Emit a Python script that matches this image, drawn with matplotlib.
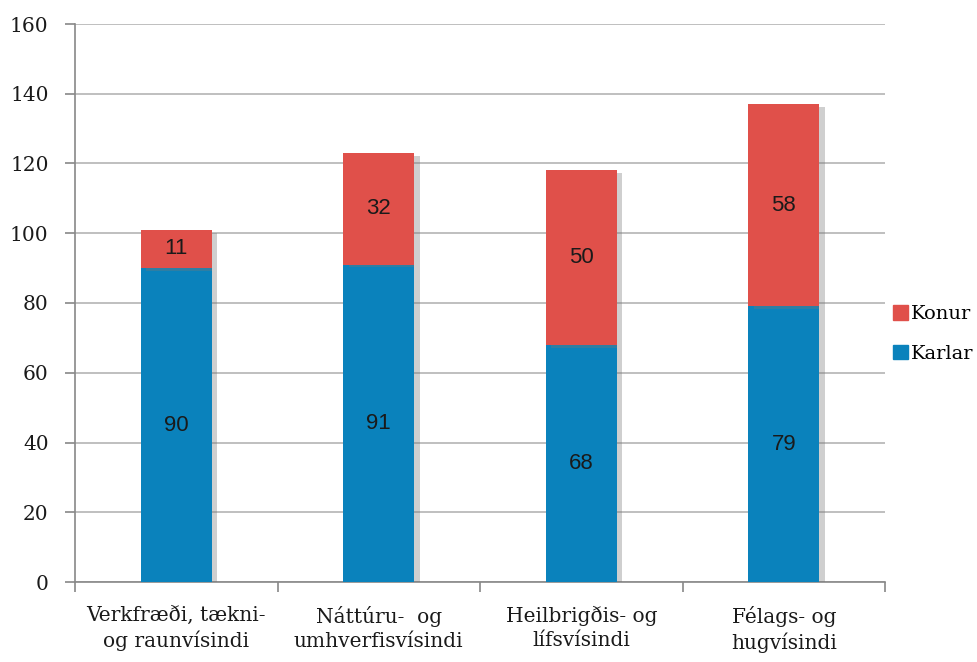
import matplotlib
matplotlib.use("Agg")
import matplotlib.pyplot as plt
import matplotlib.patheffects as pe
from matplotlib.patches import Patch
import numpy as np

categories = ["Verkfræði, tækni-\nog raunvísindi", "Náttúru-  og\numhverfisvísindi",
              "Heilbrigðis- og\nlífsvísindi", "Félags- og\nhugvísindi"]
karlar = [90, 91, 68, 79]
konur = [11, 32, 50, 58]
yticks = [0, 20, 40, 60, 80, 100, 120, 140, 160]

blue = "#0A82BC"
red = "#E0504A"
grid_c = "#B4B4B4"
serif = ["DejaVu Serif"]
sans = ["Liberation Sans", "DejaVu Sans"]

fig = plt.figure(figsize=(9.77, 6.62), dpi=100)
ax = fig.add_axes([75/977, 1-582/662, 810/977, (582-24)/662])

x = np.arange(len(categories))
w = 0.35
shadow = [pe.SimplePatchShadow(offset=(4, -2), shadow_rgbFace="#777777", alpha=0.35), pe.Normal()]
b1 = ax.bar(x, karlar, w, color=blue, label="Karlar", zorder=3)
b2 = ax.bar(x, konur, w, bottom=karlar, color=red, label="Konur", zorder=3)
for b in list(b1) + list(b2):
    b.set_path_effects(shadow)

for i in range(len(x)):
    ax.text(x[i], karlar[i]/2, str(karlar[i]), ha="center", va="center",
            fontsize=16, family=sans, color="#1A1A1A", zorder=4)
    ax.text(x[i], karlar[i] + konur[i]/2, str(konur[i]), ha="center", va="center",
            fontsize=16, family=sans, color="#1A1A1A", zorder=4)

ax.set_xlim(-0.5, len(x) - 0.5)
ax.set_ylim(0, 160)
ax.set_yticks(yticks)
ax.set_yticklabels([str(v) for v in yticks], family=serif, fontsize=14.5, color="#1A1A1A")
ax.yaxis.grid(True, color=grid_c, linewidth=1.2, zorder=0)
ax.set_axisbelow(True)

ax.set_xticks(np.arange(len(x) + 1) - 0.5)
ax.set_xticklabels([])
ax.set_xticks(x, minor=True)
ax.set_xticklabels(categories, minor=True, family=serif, fontsize=14.5, color="#1A1A1A",
                   linespacing=1.35)
ax.tick_params(axis="x", which="minor", length=0, pad=17)
ax.tick_params(axis="x", which="major", length=7, color="#888888", width=1.2)
ax.tick_params(axis="y", length=7, color="#888888", width=1.2, pad=12)

for s in ["top", "right"]:
    ax.spines[s].set_visible(False)
for s in ["left", "bottom"]:
    ax.spines[s].set_color("#888888")
    ax.spines[s].set_linewidth(1.2)

handles = [Patch(color=red, label="Konur"), Patch(color=blue, label="Karlar")]
leg = fig.legend(handles=handles, loc="center left",
                 bbox_to_anchor=(893/977, 1-334/662), frameon=False,
                 prop={"family": serif, "size": 14}, handlelength=0.75, handleheight=0.75,
                 handletextpad=0.15, labelspacing=1.1, borderaxespad=0, borderpad=0)

fig.savefig("out.png", dpi=100)
